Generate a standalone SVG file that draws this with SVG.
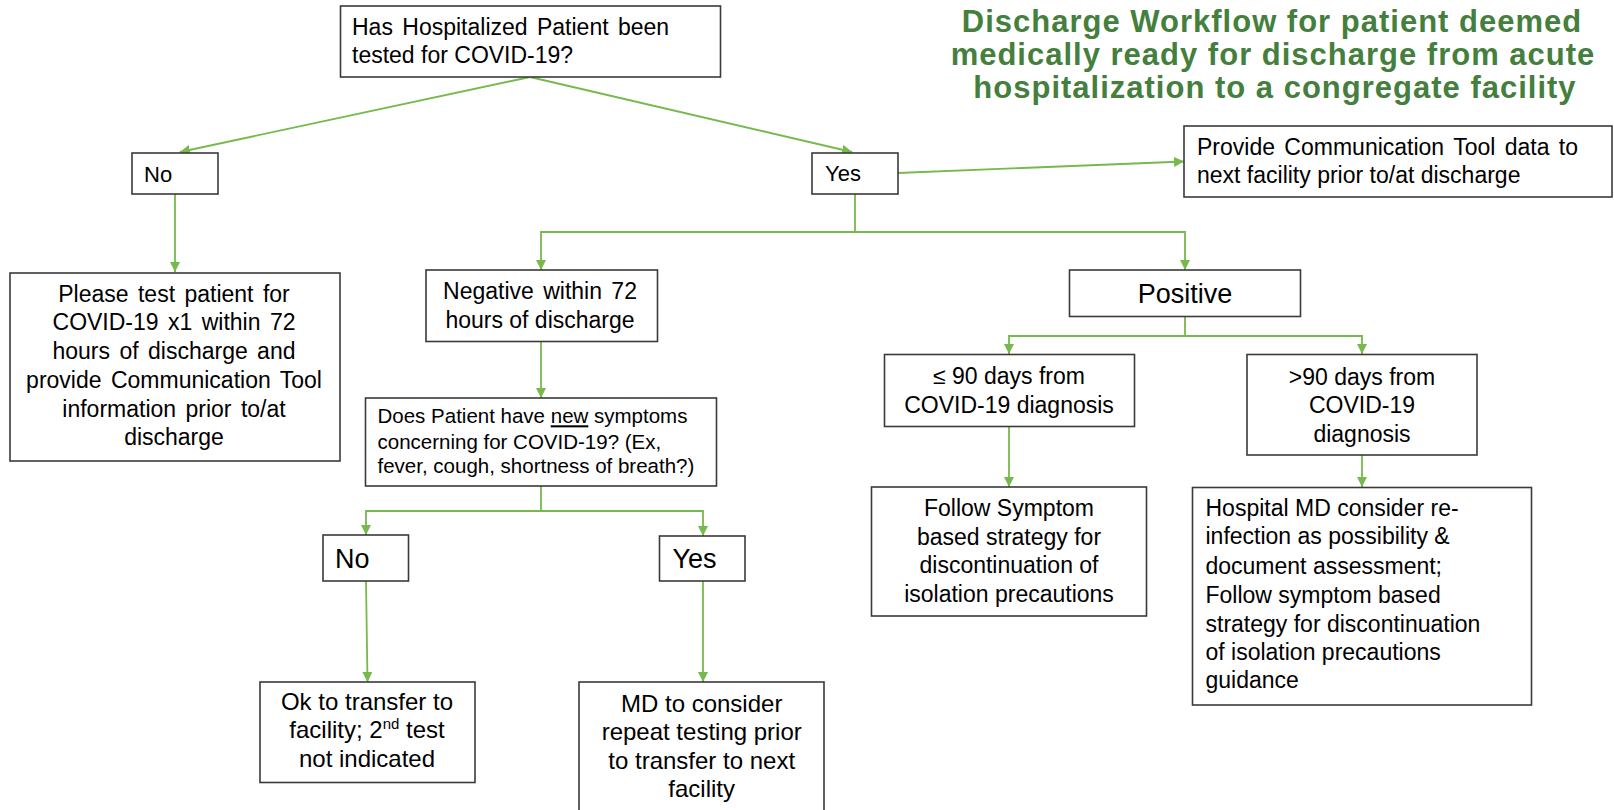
<svg xmlns="http://www.w3.org/2000/svg" width="1614" height="810" viewBox="0 0 1614 810">
<style>
  .box { fill: #ffffff; stroke: #3a3a3a; stroke-width: 1.6; }
  .t { font-family: "Liberation Sans", Arial, sans-serif; fill: #000000; }
  .c { text-anchor: middle; }
  .f23 { font-size: 23px; }
  .f22 { font-size: 22px; }
  .f24 { font-size: 24px; }
  .f27 { font-size: 27px; }
  .f20 { font-size: 20.5px; }
  .ws { word-spacing: 3px; }
  .title { font-family: "Liberation Sans", Arial, sans-serif; font-weight: bold; font-size: 31px; letter-spacing: 1px; fill: #457f3d; text-anchor: middle; }
  .conn { fill: none; stroke: #76b94c; stroke-width: 1.8; marker-end: url(#arrow); }
</style>
<defs>
  <marker id="arrow" viewBox="0 0 10 10" refX="10" refY="5" markerWidth="10" markerHeight="10" markerUnits="userSpaceOnUse" orient="auto">
    <path d="M0,0 L10,5 L0,10 z" fill="#76b94c"/>
  </marker>
</defs>
<rect width="1614" height="810" fill="#ffffff"/>

<g id="title">
  <text class="title" x="1272" y="32">Discharge Workflow for patient deemed</text>
  <text class="title" x="1273" y="65">medically ready for discharge from acute</text>
  <text class="title" x="1275" y="98">hospitalization to a congregate facility</text>
</g>

<g id="connectors">
  <path class="conn" d="M530,77 L180,152"/>
  <path class="conn" d="M530,77 L852,152"/>
  <path class="conn" d="M175,194 L175,272"/>
  <path class="conn" d="M898,173 L1184,161.5"/>
  <path class="conn" d="M855,194 V232 H541 V270"/>
  <path class="conn" d="M855,232 H1185 V270"/>
  <path class="conn" d="M541,342 V398"/>
  <path class="conn" d="M1185,317 V336 H1009 V354"/>
  <path class="conn" d="M1185,336 H1362 V354"/>
  <path class="conn" d="M1009,427 V487"/>
  <path class="conn" d="M1362,455 V487"/>
  <path class="conn" d="M541,486 V511 H366 V535"/>
  <path class="conn" d="M541,511 H703 V536"/>
  <path class="conn" d="M366,581 L367.5,682"/>
  <path class="conn" d="M703,581 V682"/>
</g>

<g id="n-tested">
  <rect class="box" x="340.5" y="6" width="380" height="71"/>
  <text class="t f23" x="352" y="35" word-spacing="3">Has Hospitalized Patient been</text>
  <text class="t f23" x="352" y="63">tested for COVID-19?</text>
</g>

<g id="n-no1">
  <rect class="box" x="132" y="153" width="86" height="41"/>
  <text class="t f22" x="144" y="181.5">No</text>
</g>

<g id="n-yes1">
  <rect class="box" x="812" y="153" width="86" height="41"/>
  <text class="t f22" x="825" y="181">Yes</text>
</g>

<g id="n-provide">
  <rect class="box" x="1184" y="126" width="428" height="71"/>
  <text class="t f23" x="1197" y="154.5" word-spacing="3">Provide Communication Tool data to</text>
  <text class="t f23" x="1197" y="183">next facility prior to/at discharge</text>
</g>

<g id="n-please">
  <rect class="box" x="10" y="273" width="330" height="188"/>
  <text class="t f23 c ws" x="174" y="301.7">Please test patient for</text>
  <text class="t f23 c ws" x="174" y="330">COVID-19 x1 within 72</text>
  <text class="t f23 c ws" x="174" y="359.3">hours of discharge and</text>
  <text class="t f23 c ws" x="174" y="388.3">provide Communication Tool</text>
  <text class="t f23 c ws" x="174" y="416.7">information prior to/at</text>
  <text class="t f23 c" x="174" y="445">discharge</text>
</g>

<g id="n-negative">
  <rect class="box" x="426" y="270" width="231.5" height="71.5"/>
  <text class="t f23 c" x="540" y="299.3" word-spacing="3">Negative within 72</text>
  <text class="t f23 c" x="540" y="327.7">hours of discharge</text>
</g>

<g id="n-positive">
  <rect class="box" x="1069.5" y="270" width="231" height="46.5"/>
  <text class="t f27 c" x="1185" y="302.7">Positive</text>
</g>

<g id="n-le90">
  <rect class="box" x="884.5" y="354.5" width="250" height="72"/>
  <text class="t f23 c" x="1009" y="384.3">≤ 90 days from</text>
  <text class="t f23 c" x="1009" y="412.7">COVID-19 diagnosis</text>
</g>

<g id="n-gt90">
  <rect class="box" x="1247" y="354.5" width="230" height="100.5"/>
  <text class="t f23 c" x="1362" y="385">&gt;90 days from</text>
  <text class="t f23 c" x="1362" y="413.3">COVID-19</text>
  <text class="t f23 c" x="1362" y="441.7">diagnosis</text>
</g>

<g id="n-follow">
  <rect class="box" x="871.5" y="487" width="275" height="129"/>
  <text class="t f23 c" x="1009" y="516">Follow Symptom</text>
  <text class="t f23 c" x="1009" y="545">based strategy for</text>
  <text class="t f23 c" x="1009" y="573.3">discontinuation of</text>
  <text class="t f23 c" x="1009" y="602.3">isolation precautions</text>
</g>

<g id="n-hospital">
  <rect class="box" x="1192.5" y="487.5" width="339" height="217.5"/>
  <text class="t f23" x="1205.5" y="516">Hospital MD consider re-</text>
  <text class="t f23" x="1205.5" y="544.3">infection as possibility &amp;</text>
  <text class="t f23" x="1205.5" y="574">document assessment;</text>
  <text class="t f23" x="1205.5" y="602.7">Follow symptom based</text>
  <text class="t f23" x="1205.5" y="631.7">strategy for discontinuation</text>
  <text class="t f23" x="1205.5" y="660">of isolation precautions</text>
  <text class="t f23" x="1205.5" y="688.3">guidance</text>
</g>

<g id="n-symptoms">
  <rect class="box" x="365.5" y="398" width="351" height="88"/>
  <text class="t f20" x="377.5" y="423.3">Does Patient have <tspan text-decoration="underline">new</tspan> symptoms</text>
  <text class="t f20" x="377.5" y="449">concerning for COVID-19? (Ex,</text>
  <text class="t f20" x="377.5" y="473.3">fever, cough, shortness of breath?)</text>
</g>

<g id="n-no2">
  <rect class="box" x="323" y="535" width="85.5" height="46"/>
  <text class="t f27" x="335" y="568.3">No</text>
</g>

<g id="n-yes2">
  <rect class="box" x="659.5" y="536" width="85.5" height="45"/>
  <text class="t f27" x="672.5" y="568.3">Yes</text>
</g>

<g id="n-ok">
  <rect class="box" x="260" y="682" width="215" height="100.5"/>
  <text class="t f24 c" x="367" y="710">Ok to transfer to</text>
  <text class="t f24 c" x="367" y="738.3">facility; 2<tspan font-size="15" dy="-9">nd</tspan><tspan dy="9"> test</tspan></text>
  <text class="t f24 c" x="367" y="767.3">not indicated</text>
</g>

<g id="n-md">
  <rect class="box" x="579" y="682" width="245" height="140"/>
  <text class="t f24 c" x="701.7" y="711.7">MD to consider</text>
  <text class="t f24 c" x="701.7" y="740">repeat testing prior</text>
  <text class="t f24 c" x="701.7" y="769">to transfer to next</text>
  <text class="t f24 c" x="701.7" y="797.3">facility</text>
</g>
</svg>
